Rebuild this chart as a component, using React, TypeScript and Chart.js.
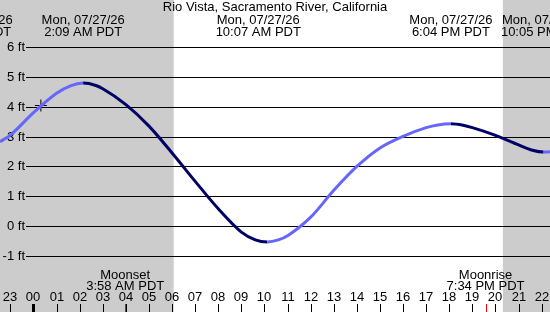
import React, { useEffect, useRef } from "react";
import { Chart, registerables } from "chart.js";

Chart.register(...registerables);

// ---- data ----
const tideHours = [-1.45, -1, 0, 1, 1.6, 2.15, 2.7, 3, 4, 5, 6, 7, 8, 9, 9.6, 10.12, 10.6, 11, 12, 13, 14, 15, 16, 17, 17.5, 18.07, 18.6, 19, 20, 21, 21.6, 22.08, 22.36];
const tideFeet = [2.83, 3.05, 3.8, 4.45, 4.7, 4.79, 4.71, 4.6, 4.07, 3.35, 2.45, 1.5, 0.58, -0.2, -0.46, -0.53, -0.46, -0.32, 0.3, 1.2, 2.0, 2.62, 3.01, 3.3, 3.39, 3.43, 3.38, 3.3, 3.04, 2.72, 2.54, 2.48, 2.49];

const extremeHours = [-2.65, 2.15, 10.12, 18.07, 22.08];
const extremeDates = ["Sun, 07/26/26", "Mon, 07/27/26", "Mon, 07/27/26", "Mon, 07/27/26", "Mon, 07/27/26"];
const extremeTimes = ["9:21 PM PDT", "2:09 AM PDT", "10:07 AM PDT", "6:04 PM PDT", "10:05 PM PDT"];

const moonHours = [3.97, 19.57];
const moonNames = ["Moonset", "Moonrise"];
const moonTimes = ["3:58 AM PDT", "7:34 PM PDT"];

const sunriseHour = 6.07;
const sunsetHour = 20.32;

const nowHour = [0.32];
const nowFeet = [4.04];

const hourTicks = [-1, 0, 1, 2, 3, 4, 5, 6, 7, 8, 9, 10, 11, 12, 13, 14, 15, 16, 17, 18, 19, 20, 21, 22];
const hourTickLabels = ["23", "00", "01", "02", "03", "04", "05", "06", "07", "08", "09", "10", "11", "12", "13", "14", "15", "16", "17", "18", "19", "20", "21", "22"];

const feetTicks = [-1, 0, 1, 2, 3, 4, 5, 6];
const title = "Rio Vista, Sacramento River, California";

// ---- style ----
const FONT = '13px "Liberation Sans", Arial, sans-serif';
const GRAY = "#cccccc";
const LIGHT = "#6666ff";
const DARK = "#000066";
const labelNudge = [0, 0, -9, 0, 0];

const decorPlugin = {
  id: "decor",
  beforeDatasetsDraw(chart: any) {
    const ctx = chart.ctx;
    const xs = chart.scales.x;
    const ys = chart.scales.y;
    const W = chart.width;
    const H = chart.height;
    ctx.save();
    ctx.fillStyle = "#ffffff";
    ctx.fillRect(0, 0, W, H);
    // night shading
    ctx.fillStyle = GRAY;
    const xr = xs.getPixelForValue(sunriseHour);
    ctx.fillRect(0, 0, xr, H);
    const xsn = xs.getPixelForValue(sunsetHour);
    ctx.fillRect(xsn, 0, W - xsn, H);

    // grid lines + y labels
    ctx.font = FONT;
    ctx.fillStyle = "#000";
    ctx.strokeStyle = "#000";
    ctx.lineWidth = 1;
    ctx.textAlign = "right";
    ctx.textBaseline = "middle";
    feetTicks.forEach((f) => {
      const y = Math.round(ys.getPixelForValue(f)) + 0.5;
      ctx.beginPath();
      ctx.moveTo(26, y);
      ctx.lineTo(W, y);
      ctx.stroke();
      ctx.fillText(`${f} ft`, 25, y);
    });

    // title
    ctx.textAlign = "center";
    ctx.textBaseline = "alphabetic";
    ctx.fillText(title, W / 2, 11);

    // extreme labels
    extremeHours.forEach((h, i) => {
      const x = xs.getPixelForValue(h) + labelNudge[i];
      ctx.fillText(extremeDates[i], x, 24);
      ctx.fillText(extremeTimes[i], x, 36);
    });

    // moon labels
    moonHours.forEach((h, i) => {
      const x = xs.getPixelForValue(h);
      ctx.fillText(moonNames[i], x, 278.5);
      ctx.fillText(moonTimes[i], x, 289.5);
    });

    // hour labels + ticks
    hourTicks.forEach((h, i) => {
      const x = Math.round(xs.getPixelForValue(h));
      ctx.fillStyle = "#000";
      ctx.fillText(hourTickLabels[i], x, 301);
      if (h === 0) ctx.fillRect(x - 1, 304, 3, 8);
      else ctx.fillRect(x, 304, 1, 8);
    });
    ctx.fillStyle = "#ff0000";
    moonHours.forEach((h) => {
      const x = Math.round(xs.getPixelForValue(h));
      ctx.fillRect(x, 304, 1, 8);
    });
    ctx.restore();
  },
};

export default function App() {
  const ref = useRef<HTMLCanvasElement | null>(null);
  useEffect(() => {
    if (!ref.current) return;
    const chart = new Chart(ref.current, {
      type: "line",
      data: {
        datasets: [
          {
            data: tideHours.map((h, i) => ({ x: h, y: tideFeet[i] })),
            borderWidth: 3,
            borderColor: LIGHT,
            pointRadius: 0,
            cubicInterpolationMode: "monotone",
            segment: {
              borderColor: (c: any) => (c.p1.parsed.y < c.p0.parsed.y ? DARK : LIGHT),
            },
          } as any,
          {
            data: nowHour.map((h, i) => ({ x: h, y: nowFeet[i] })),
            showLine: false,
            pointStyle: "cross",
            pointRadius: 6,
            borderColor: "#000",
            borderWidth: 1,
          } as any,
        ],
      },
      options: {
        animation: false,
        responsive: false,
        devicePixelRatio: 1,
        layout: { padding: 0, autoPadding: false },
        plugins: { legend: { display: false }, tooltip: { enabled: false }, title: { display: false } },
        scales: {
          x: { type: "linear", min: -1.45, max: 22.36, display: false },
          y: { type: "linear", min: -2.876, max: 7.574, display: false },
        },
      } as any,
      plugins: [decorPlugin],
    });
    return () => chart.destroy();
  }, []);
  return (
    <div style={{ position: "fixed", left: 0, top: 0, width: 550, height: 312 }}>
      <canvas ref={ref} width={550} height={312} />
    </div>
  );
}
